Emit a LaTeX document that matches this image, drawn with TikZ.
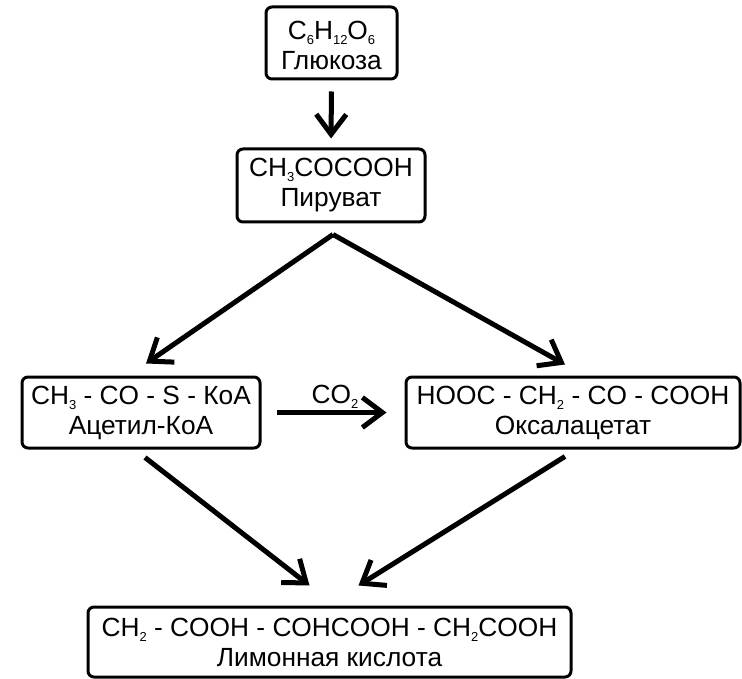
\documentclass[tikz,border=0pt]{standalone}
\usepackage{fontspec}
\setmainfont{Liberation Sans}
\usetikzlibrary{arrows.meta,calc}
\newcommand{\chsub}[1]{\raisebox{-5pt}{\fontsize{13}{13}\selectfont #1}}
\begin{document}
\begin{tikzpicture}[x=1pt,y=-1pt,
  box/.style={draw, line width=3pt, rounded corners=6pt, inner sep=0pt, align=center,
    font=\fontsize{26.3}{30}\selectfont},
  lbl/.style={inner sep=0pt, font=\fontsize{26.3}{30}\selectfont},
  arr/.style={line width=5pt, -{Straight Barb[length=20pt,width=30pt,line width=5pt]}}]
\useasboundingbox (0,0) rectangle (742,679);
\node[box, minimum width=131pt, minimum height=72pt] (gluc) at (331.5,43)
  {\rule{0pt}{24pt}C\chsub{6}H\chsub{12}O\chsub{6}\\Глюкоза};
\node[box, minimum width=188pt, minimum height=73pt] (pyr) at (331,185.5)
  {CH\chsub{3}COCOOH\\Пируват};
\node[box, minimum width=238pt, minimum height=71pt] (acet) at (141,412.5)
  {CH\chsub{3} - CO - S - КоА\\Ацетил-КоА};
\node[box, minimum width=334pt, minimum height=71pt] (oxal) at (573,412.5)
  {HOOC - CH\chsub{2} - CO - COOH\\Оксалацетат};
\node[box, minimum width=483pt, minimum height=70pt] (citr) at (329.5,642)
  {CH\chsub{2} - COOH - COHCOOH - CH\chsub{2}COOH\\Лимонная кислота};
\coordinate (pyrout) at ($(pyr.south)+(2,11)$);
\coordinate (acetin) at ($(acet.north)+(5,-12)$);
\coordinate (oxalin) at ($(oxal.north)+(-8,-11)$);
\coordinate (acetout) at ($(acet.south)+(4,8)$);
\coordinate (oxalout) at ($(oxal.south)+(-8,7)$);
\coordinate (citrin1) at ($(citr.north)+(-20,-20)$);
\coordinate (citrin2) at ($(citr.north)+(29,-20)$);
\draw[arr, shorten <=11pt, shorten >=9pt] (gluc.south) -- (pyr.north);
\draw[arr] (pyrout) -- (acetin);
\draw[arr] (pyrout) -- (oxalin);
\draw[arr, shorten <=15pt, shorten >=18pt] (acet.east) -- (oxal.west);
\node[lbl, anchor=base] (co2) at ($(acet.east)!0.5!(oxal.west)+(2,-9.5)$) {CO\chsub{2}};
\draw[arr] (acetout) -- (citrin1);
\draw[arr] (oxalout) -- (citrin2);
\end{tikzpicture}
\end{document}
